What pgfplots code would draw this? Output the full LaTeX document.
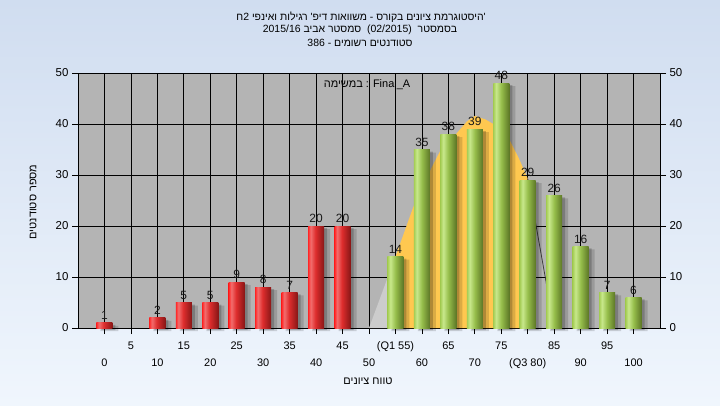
\documentclass[border=0pt]{standalone}
\usepackage{fontspec}
\setmainfont{Liberation Sans}
\newfontfamily\heb[Script=Hebrew]{Liberation Sans}
\TeXXeTstate=1
\usepackage{pgfplots}
\pgfplotsset{compat=1.18}
\definecolor{bgtop}{RGB}{208,221,240}
\definecolor{bgbot}{RGB}{240,246,253}
\definecolor{plotbg}{RGB}{180,180,180}
\definecolor{areay}{RGB}{255,200,80}
\definecolor{areag}{RGB}{204,204,204}
\definecolor{rA}{RGB}{255,40,40}
\definecolor{rB}{RGB}{242,110,110}
\definecolor{rC}{RGB}{222,45,45}
\definecolor{rD}{RGB}{135,22,22}
\definecolor{gA}{RGB}{165,205,85}
\definecolor{gB}{RGB}{200,232,140}
\definecolor{gC}{RGB}{150,190,75}
\definecolor{gD}{RGB}{92,118,38}
\pgfdeclarehorizontalshading{redbar}{100bp}{color(0bp)=(rA); color(25bp)=(rA); color(33bp)=(rB); color(48bp)=(rC); color(75bp)=(rD); color(100bp)=(rD)}
\pgfdeclarehorizontalshading{greenbar}{100bp}{color(0bp)=(gA); color(25bp)=(gA); color(34bp)=(gB); color(50bp)=(gC); color(75bp)=(gD); color(100bp)=(gD)}
\pgfplotstableread{
x y
0 1
10 2
15 5
20 5
25 9
30 8
35 7
40 20
45 20
}\redtab
\pgfplotstableread{
x y
55 14
60 35
65 38
70 39
75 48
80 29
85 26
90 16
95 7
100 6
}\greentab
\pgfplotsset{
  barlbl/.style={nodes near coords, nodes near coords style={font=\fontsize{12}{12}\selectfont, text=black!90, anchor=south, inner sep=3bp}},
  redbarstyle/.style={ybar, bar width=16bp, bar shift=0bp, draw=none, shading=redbar, barlbl},
  greenbarstyle/.style={ybar, bar width=16bp, bar shift=0bp, draw=none, shading=greenbar, barlbl},
}
\begin{document}
\begin{tikzpicture}[x=1bp,y=1bp]
\shade[top color=bgtop,bottom color=bgbot] (0,0) rectangle (720,405);
\begin{axis}[
  at={(78bp,77bp)}, anchor=south west,
  width=582bp, height=255bp, scale only axis,
  xmin=-5, xmax=105, ymin=0, ymax=50,
  /pgf/number format/assume math mode=true,
  axis background/.style={fill=plotbg},
  axis x line*=bottom, axis y line*=left,
  axis line style={black, line width=0.9bp, -},
  tick align=outside, major tick length=6bp,
  tick style={black, line width=0.8bp},
  grid=major, major grid style={black, line width=0.8bp},
  ytick={0,10,...,50},
  yticklabel style={font=\fontsize{11.5}{12}\selectfont},
  xtick={0,10,...,100},
  xticklabels={0,10,20,30,40,50,60,70,{(Q3 80)},90,100},
  xticklabel style={font=\fontsize{11}{12}\selectfont, anchor=base, yshift=-32bp},
  extra x ticks={5,15,...,95},
  extra x tick labels={5,15,25,35,45,{(Q1 55)},65,75,85,95},
  extra x tick style={grid=major, xticklabel style={yshift=17bp}},
  clip=false,
]
% distribution area
\addplot[fill=areag, draw=none] coordinates {(50,0)(55,14)(55,0)} \closedcycle;
\addplot[fill=areay, draw=none] coordinates {(55,0)(55,14)(58.4,23.8)(61.9,31.6)(63.4,34.6)(66.6,38.2)(68.5,40.5)(70,41.6)(72,40.9)(73.5,40)(76.4,37.2)(78.3,33.3)(80,29.3)(80,0)} \closedcycle;
\addplot[draw=black!75, line width=0.8bp] coordinates {(80,29.3)(83.3,10)(84.5,3)};
% shadows
\addplot[ybar, bar width=18bp, bar shift=5bp, draw=none, fill=black, fill opacity=0.14, yshift=-3bp] table[x=x,y=y] {\redtab};
\addplot[ybar, bar width=14bp, bar shift=4bp, draw=none, fill=black, fill opacity=0.2, yshift=-2bp] table[x=x,y=y] {\redtab};
\addplot[ybar, bar width=18bp, bar shift=5bp, draw=none, fill=black, fill opacity=0.14, yshift=-3bp] table[x=x,y=y] {\greentab};
\addplot[ybar, bar width=14bp, bar shift=4bp, draw=none, fill=black, fill opacity=0.2, yshift=-2bp] table[x=x,y=y] {\greentab};
% bars, one plot per bar so each gets its own cylinder shading
\foreach \xx/\yy in {0/1,10/2,15/5,20/5,25/9,30/8,35/7,40/20,45/20}{
  \edef\tmp{\noexpand\addplot[redbarstyle] coordinates {(\xx,\yy)};}\tmp
}
\foreach \xx/\yy in {55/14,60/35,65/38,70/39,75/48,80/29,85/26,90/16,95/7,100/6}{
  \edef\tmp{\noexpand\addplot[greenbarstyle] coordinates {(\xx,\yy)};}\tmp
}
\end{axis}
\begin{axis}[
  at={(78bp,77bp)}, anchor=south west,
  width=582bp, height=255bp, scale only axis,
  xmin=-5, xmax=105, ymin=0, ymax=50,
  /pgf/number format/assume math mode=true,
  axis x line=none, axis y line*=right,
  axis line style={black, line width=0.9bp, -},
  tick align=outside, major tick length=6bp,
  tick style={black, line width=0.8bp},
  ytick={0,10,...,50},
  yticklabel style={font=\fontsize{11.5}{12}\selectfont},
]
\addplot[draw=none] coordinates {(0,0)};
\end{axis}
% texts
\node[font=\fontsize{10.5}{12}\selectfont] at (361,388) {\heb\beginR'היסטוגרמת ציונים בקורס - משוואות דיפ' רגילות ואינפי 2ח\endR};
\node[font=\fontsize{10.5}{12}\selectfont] at (360,375.3) {\heb\beginR בסמסטר\ \ \beginL(02/2015)\endL\ \ סמסטר אביב \beginL2015/16\endL\endR};
\node[font=\fontsize{10.5}{12}\selectfont] at (360,362.3) {\heb\beginR סטודנטים רשומים - \beginL386\endL\endR};
\node[font=\fontsize{11}{12}\selectfont] at (367,320) {{\heb\beginR במשימה\endR} : Final\_A};
\node[font=\fontsize{11}{12}\selectfont] at (368,24) {\heb\beginR טווח ציונים\endR};
\node[font=\fontsize{11}{12}\selectfont, rotate=90] at (33,203) {\heb\beginR מספר סטודנטים\endR};
\end{tikzpicture}
\end{document}
